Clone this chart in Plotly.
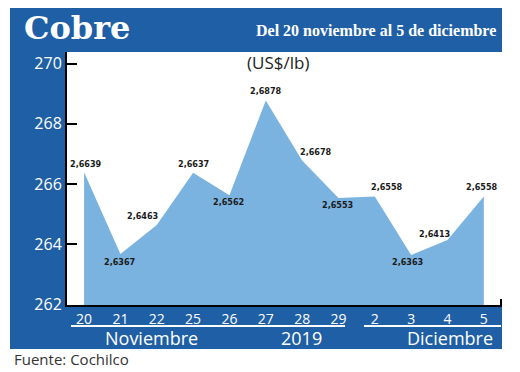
import plotly.graph_objects as go

# ---- data ----
days = ["20", "21", "22", "25", "26", "27", "28", "29", "2", "3", "4", "5"]
price_cents = [266.39, 263.67, 264.63, 266.37, 265.62, 268.78,
               266.78, 265.53, 265.58, 263.63, 264.13, 265.58]
price_labels = ["2,6639", "2,6367", "2,6463", "2,6637", "2,6562", "2,6878",
                "2,6678", "2,6553", "2,6558", "2,6363", "2,6413", "2,6558"]
y_ticks = [262, 264, 266, 268, 270]
month_labels = ["Noviembre", "2019", "Diciembre"]

# ---- style ----
BLUE = "#1f5fa6"
FILL = "#7ab3df"
OFF = 8                      # page body margin of the browser
W, H = 520 - OFF, 372 - OFF
ML, MR, MT, MB = 67 - OFF, 18, 52 - OFF, 67
PW, PH = W - ML - MR, H - MT - MB


def px(x):
    return (x - OFF - ML) / PW


def py(y):
    return (MT + PH - (y - OFF)) / PH


# label offsets (pixels) relative to each point
label_dx = [2, -1, -14, 0, -1, 0, 14, -1, 12, -4, -13, -2]
label_dy = [-8, 8, -9, -9, 7, -9, -8, 7, -10, 7, -6, -10]

fig = go.Figure()
fig.add_trace(go.Scatter(
    x=days, y=price_cents, mode="lines", fill="tozeroy",
    fillcolor=FILL, line=dict(width=0, color=FILL), hoverinfo="skip",
    showlegend=False,
))

shapes = [
    dict(type="rect", xref="paper", yref="paper", x0=px(10), x1=px(502),
         y0=py(52), y1=py(5), fillcolor=BLUE, line=dict(width=0), layer="below"),
    dict(type="rect", xref="paper", yref="paper", x0=px(10), x1=px(66),
         y0=py(349), y1=py(5), fillcolor=BLUE, line=dict(width=0), layer="below"),
    dict(type="rect", xref="paper", yref="paper", x0=px(10), x1=px(502),
         y0=py(349), y1=py(305), fillcolor=BLUE, line=dict(width=0), layer="below"),
    dict(type="line", xref="paper", yref="paper", x0=px(71), x1=px(345),
         y0=py(326), y1=py(326), line=dict(color="white", width=2)),
    dict(type="line", xref="paper", yref="paper", x0=px(364), x1=px(501),
         y0=py(326), y1=py(326), line=dict(color="white", width=2)),
    dict(type="line", xref="paper", yref="paper", x0=px(501), x1=px(501),
         y0=py(305), y1=py(299), line=dict(color="black", width=2)),
]

annotations = []
for i, (v, t, dx, dy) in enumerate(zip(price_cents, price_labels, label_dx, label_dy)):
    annotations.append(dict(
        x=i, y=v, xref="x", yref="y", text=t, showarrow=False,
        xshift=dx, yshift=-dy,
        font=dict(family="Liberation Sans Narrow, DejaVu Sans Condensed, Arial Narrow",
                  size=9, color="#1a1a1a", weight="bold"),
    ))

month_x = [151, 301, 450]
for m, mx in zip(month_labels, month_x):
    annotations.append(dict(
        x=px(mx), y=py(338), xref="paper", yref="paper", text=m, showarrow=False,
        xanchor="center", yanchor="middle",
        font=dict(family="Open Sans", size=18, color="white"),
    ))

annotations += [
    dict(x=px(22), y=py(28), xref="paper", yref="paper", text="<b>Cobre</b>",
         showarrow=False, xanchor="left", yanchor="middle",
         font=dict(family="DejaVu Serif", size=32, color="white")),
    dict(x=px(498), y=py(30), xref="paper", yref="paper",
         text="Del 20 noviembre al 5 de diciembre",
         showarrow=False, xanchor="right", yanchor="middle",
         font=dict(family="Liberation Serif", size=16, color="white", weight="bold")),
    dict(x=px(278), y=py(62), xref="paper", yref="paper", text="(US$/lb)",
         showarrow=False, xanchor="center", yanchor="middle",
         font=dict(family="Open Sans", size=17, color="#222222")),
    dict(x=px(12), y=py(359), xref="paper", yref="paper", text="Fuente: Cochilco",
         showarrow=False, xanchor="left", yanchor="middle",
         font=dict(family="Open Sans", size=15, color="#333333")),
]

fig.update_layout(
    width=W, height=H,
    margin=dict(l=ML, r=MR, t=MT, b=MB, pad=0),
    paper_bgcolor="white", plot_bgcolor="white",
    showlegend=False,
    shapes=shapes, annotations=annotations,
    xaxis=dict(
        type="category", range=[-0.47, 11.5], showgrid=False, zeroline=False,
        showline=True, linecolor="black", linewidth=2,
        ticks="", tickfont=dict(family="Open Sans", size=14, color="white"),
        fixedrange=True,
    ),
    yaxis=dict(
        range=[261.97, 270.39], tickvals=y_ticks, ticktext=[str(v) for v in y_ticks],
        showgrid=False, zeroline=False,
        showline=True, linecolor="black", linewidth=2,
        ticks="inside", ticklen=10, tickwidth=2, tickcolor="black",
        tickfont=dict(family="Open Sans", size=16, color="white"),
        fixedrange=True,
    ),
)

fig.write_html("out.html")
